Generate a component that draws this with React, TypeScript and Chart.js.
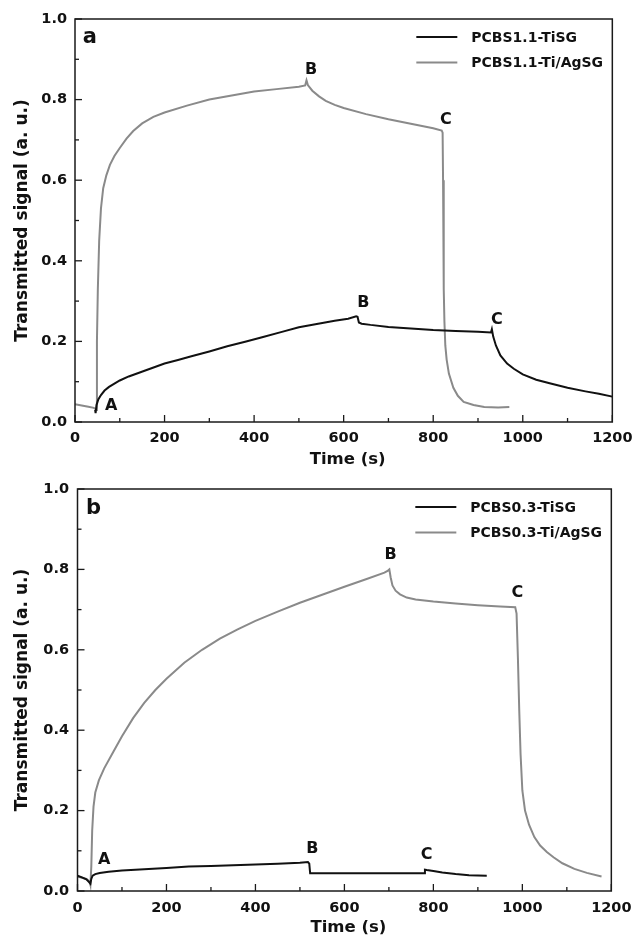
import React, { useEffect, useRef } from "react";
import { Chart, registerables } from "chart.js";
Chart.register(...registerables);

const FONT = "'DejaVu Sans', 'Liberation Sans', sans-serif";
const BLACK = "#111111";
const GRAY = "#8a8a8a";

// X / Y axis ticks
const xTickValues = [0, 200, 400, 600, 800, 1000, 1200];
const yTickValues = [0.0, 0.2, 0.4, 0.6, 0.8, 1.0];

// ---------- Panel a ----------
const aLegend = ["PCBS1.1-TiSG", "PCBS1.1-Ti/AgSG"];
const aTiSG_t = [45, 46, 48, 52, 58, 66, 76, 88, 100, 120, 140, 160, 180, 200, 230, 260, 300, 340, 380, 420, 460, 500, 540, 580, 610, 628, 631, 634, 640, 660, 700, 750, 800, 850, 900, 929, 931, 934, 940, 950, 965, 980, 1000, 1030, 1060, 1100, 1140, 1170, 1200];
const aTiSG_v = [0.030, 0.022, 0.042, 0.056, 0.067, 0.078, 0.087, 0.095, 0.103, 0.113, 0.121, 0.129, 0.137, 0.145, 0.154, 0.163, 0.175, 0.188, 0.199, 0.211, 0.223, 0.235, 0.243, 0.251, 0.256, 0.262, 0.261, 0.247, 0.244, 0.241, 0.236, 0.232, 0.228, 0.226, 0.224, 0.222, 0.230, 0.212, 0.190, 0.165, 0.145, 0.132, 0.118, 0.105, 0.096, 0.085, 0.076, 0.070, 0.063];
const aTiAg_t = [0, 15, 30, 42, 45, 47, 49, 51, 54, 58, 63, 70, 78, 88, 100, 115, 130, 150, 175, 200, 250, 300, 350, 400, 450, 500, 514, 517, 520, 530, 545, 560, 580, 600, 650, 700, 750, 800, 819, 821, 822, 823, 824, 825, 827, 830, 835, 845, 855, 868, 890, 914, 945, 970];
const aTiAg_v = [0.044, 0.041, 0.038, 0.035, 0.033, 0.030, 0.200, 0.330, 0.450, 0.530, 0.580, 0.612, 0.638, 0.660, 0.680, 0.703, 0.722, 0.741, 0.757, 0.768, 0.785, 0.800, 0.810, 0.820, 0.826, 0.832, 0.835, 0.848, 0.836, 0.822, 0.808, 0.797, 0.787, 0.779, 0.764, 0.751, 0.740, 0.729, 0.723, 0.718, 0.600, 0.450, 0.330, 0.250, 0.190, 0.155, 0.120, 0.085, 0.065, 0.050, 0.042, 0.037, 0.036, 0.037];
const aNotes = ["a", "A", "B", "C", "B", "C"];
const aNotes_t = [33, 81, 527, 828, 644, 942];
const aNotes_v = [0.955, 0.040, 0.874, 0.750, 0.295, 0.254];
const aNotes_size = [21, 16, 16, 16, 16, 16];

// ---------- Panel b ----------
const bLegend = ["PCBS0.3-TiSG", "PCBS0.3-Ti/AgSG"];
const bTiSG_t = [0, 10, 20, 26, 29, 31, 34, 40, 50, 70, 100, 150, 200, 250, 300, 350, 400, 450, 500, 518, 521, 523, 550, 600, 650, 700, 750, 779, 781, 785, 800, 820, 850, 880, 920];
const bTiSG_v = [0.038, 0.034, 0.029, 0.022, 0.018, 0.030, 0.038, 0.042, 0.045, 0.048, 0.051, 0.054, 0.057, 0.061, 0.062, 0.064, 0.066, 0.068, 0.070, 0.072, 0.068, 0.044, 0.044, 0.044, 0.044, 0.044, 0.044, 0.044, 0.053, 0.052, 0.050, 0.046, 0.042, 0.039, 0.038];
const bTiAg_t = [0, 10, 20, 27, 29, 31, 33, 36, 40, 48, 60, 80, 100, 125, 150, 175, 200, 240, 280, 320, 360, 400, 450, 500, 550, 600, 650, 690, 698, 701, 704, 708, 715, 725, 740, 760, 800, 850, 900, 950, 984, 987, 990, 993, 996, 1000, 1006, 1015, 1027, 1040, 1055, 1070, 1090, 1117, 1145, 1178];
const bTiAg_v = [0.036, 0.033, 0.030, 0.024, 0.015, 0.060, 0.150, 0.210, 0.245, 0.275, 0.305, 0.345, 0.385, 0.430, 0.468, 0.500, 0.528, 0.568, 0.600, 0.628, 0.651, 0.672, 0.695, 0.717, 0.737, 0.757, 0.776, 0.792, 0.797, 0.800, 0.780, 0.760, 0.747, 0.738, 0.730, 0.725, 0.720, 0.715, 0.711, 0.708, 0.706, 0.690, 0.580, 0.450, 0.340, 0.250, 0.200, 0.165, 0.134, 0.113, 0.097, 0.084, 0.069, 0.055, 0.045, 0.036];
const bNotes = ["b", "A", "B", "C", "B", "C"];
const bNotes_t = [36, 60, 704, 989, 528, 785];
const bNotes_v = [0.952, 0.078, 0.835, 0.741, 0.105, 0.091];
const bNotes_size = [21, 16, 16, 16, 16, 16];

type PanelDef = {
  top: number;
  height: number;
  yAxisWidth: number;
  xAxisHeight: number;
  padTop: number;
  padRight: number;
  xTickPad: number;
  xTitleY: number;
  yTickPad: number;
  legend: string[];
  series: { t: number[]; v: number[]; color: string }[];
  notes: string[];
  notesT: number[];
  notesV: number[];
  notesSize: number[];
};

const panels: PanelDef[] = [
  {
    top: 0, height: 470, yAxisWidth: 75, xAxisHeight: 48, padTop: 19, padRight: 21,
    xTickPad: 7.5, xTitleY: 460, yTickPad: 8,
    legend: aLegend,
    series: [
      { t: aTiSG_t, v: aTiSG_v, color: BLACK },
      { t: aTiAg_t, v: aTiAg_v, color: GRAY },
    ],
    notes: aNotes, notesT: aNotes_t, notesV: aNotes_v, notesSize: aNotes_size,
  },
  {
    top: 470, height: 472, yAxisWidth: 77.5, xAxisHeight: 51, padTop: 19, padRight: 19,
    xTickPad: 8.5, xTitleY: 458, yTickPad: 8.5,
    legend: bLegend,
    series: [
      { t: bTiSG_t, v: bTiSG_v, color: BLACK },
      { t: bTiAg_t, v: bTiAg_v, color: GRAY },
    ],
    notes: bNotes, notesT: bNotes_t, notesV: bNotes_v, notesSize: bNotes_size,
  },
];

function buildChart(canvas: HTMLCanvasElement, p: PanelDef) {
  const extras = {
    id: "extras",
    afterDatasetsDraw(chart: any) {
      const { ctx, chartArea: a, scales } = chart;
      const x = scales.x;
      const y = scales.y;
      ctx.save();
      ctx.strokeStyle = "#1a1a1a";
      ctx.lineWidth = 1.5;
      ctx.strokeRect(a.left, a.top, a.right - a.left, a.bottom - a.top);
      // inward ticks (major + minor)
      ctx.lineWidth = 1.3;
      for (let i = 0; i < xTickValues.length; i++) {
        const v = xTickValues[i];
        const px = x.getPixelForValue(v);
        ctx.beginPath(); ctx.moveTo(px, a.bottom); ctx.lineTo(px, a.bottom - 7); ctx.stroke();
        if (i < xTickValues.length - 1) {
          const mid = (v + xTickValues[i + 1]) / 2;
          const pm = x.getPixelForValue(mid);
          ctx.beginPath(); ctx.moveTo(pm, a.bottom); ctx.lineTo(pm, a.bottom - 4); ctx.stroke();
        }
      }
      for (let i = 0; i < yTickValues.length; i++) {
        const v = yTickValues[i];
        const py = y.getPixelForValue(v);
        ctx.beginPath(); ctx.moveTo(a.left, py); ctx.lineTo(a.left + 7, py); ctx.stroke();
        if (i < yTickValues.length - 1) {
          const mid = (v + yTickValues[i + 1]) / 2;
          const pm = y.getPixelForValue(mid);
          ctx.beginPath(); ctx.moveTo(a.left, pm); ctx.lineTo(a.left + 4, pm); ctx.stroke();
        }
      }
      // annotations
      ctx.fillStyle = BLACK;
      ctx.textAlign = "center";
      ctx.textBaseline = "middle";
      for (let i = 0; i < p.notes.length; i++) {
        ctx.font = `bold ${p.notesSize[i]}px ${FONT}`;
        ctx.fillText(p.notes[i], x.getPixelForValue(p.notesT[i]), y.getPixelForValue(p.notesV[i]));
      }
      // x title
      ctx.font = `bold 16.5px ${FONT}`;
      ctx.fillText("Time (s)", (a.left + a.right) / 2 + 4, p.xTitleY);
      // legend
      ctx.font = `bold 14px ${FONT}`;
      ctx.textAlign = "left";
      for (let i = 0; i < p.legend.length; i++) {
        const ly = a.top + 18 + i * 25.5;
        ctx.strokeStyle = p.series[i].color;
        ctx.lineWidth = 2;
        ctx.beginPath(); ctx.moveTo(a.right - 196, ly); ctx.lineTo(a.right - 155, ly); ctx.stroke();
        ctx.fillStyle = BLACK;
        ctx.fillText(p.legend[i], a.right - 141, ly + 1);
      }
      ctx.restore();
    },
  };

  return new Chart(canvas, {
    type: "line",
    data: {
      datasets: p.series.map((s, i) => ({
        label: p.legend[i],
        data: s.t.map((t, k) => ({ x: t, y: s.v[k] })),
        borderColor: s.color,
        backgroundColor: s.color,
        borderWidth: 2,
        pointRadius: 0,
        tension: 0,
        fill: false,
      })),
    },
    options: {
      responsive: false,
      animation: false,
      events: [],
      layout: { padding: { top: p.padTop, right: p.padRight, left: 0, bottom: 0 } },
      plugins: { legend: { display: false }, tooltip: { enabled: false } },
      scales: {
        x: {
          type: "linear",
          min: 0,
          max: 1200,
          afterFit: (s: any) => { s.height = p.xAxisHeight; },
          afterBuildTicks: (s: any) => { s.ticks = xTickValues.map((v) => ({ value: v })); },
          grid: { display: false, drawTicks: false },
          border: { display: false },
          ticks: {
            autoSkip: false,
            maxRotation: 0,
            padding: p.xTickPad,
            color: BLACK,
            font: { family: FONT, size: 14.5, weight: "bold" },
            callback: (v: any) => String(v),
          },
          title: { display: false },
        },
        y: {
          type: "linear",
          min: 0,
          max: 1,
          afterFit: (s: any) => { s.width = p.yAxisWidth; },
          afterBuildTicks: (s: any) => { s.ticks = yTickValues.map((v) => ({ value: v })); },
          grid: { display: false, drawTicks: false },
          border: { display: false },
          ticks: {
            padding: p.yTickPad,
            color: BLACK,
            font: { family: FONT, size: 14.5, weight: "bold" },
            callback: (v: any) => Number(v).toFixed(1),
          },
          title: {
            display: true,
            text: "Transmitted signal (a. u.)",
            color: BLACK,
            font: { family: FONT, size: 17, weight: "bold", lineHeight: 1.2 },
            padding: { top: 12, bottom: 0 },
          },
        },
      },
    },
    plugins: [extras],
  } as any);
}

function Panel({ p }: { p: PanelDef }) {
  const ref = useRef<HTMLCanvasElement>(null);
  useEffect(() => {
    if (!ref.current) return;
    const chart = buildChart(ref.current, p);
    return () => chart.destroy();
  }, [p]);
  return (
    <canvas
      ref={ref}
      width={640}
      height={p.height}
      style={{ position: "absolute", left: 0, top: p.top, width: 640, height: p.height }}
    />
  );
}

export default function App() {
  return (
    <div style={{ position: "absolute", left: 0, top: 0, width: 640, height: 942, background: "#ffffff" }}>
      {panels.map((p, i) => (
        <Panel key={i} p={p} />
      ))}
    </div>
  );
}
